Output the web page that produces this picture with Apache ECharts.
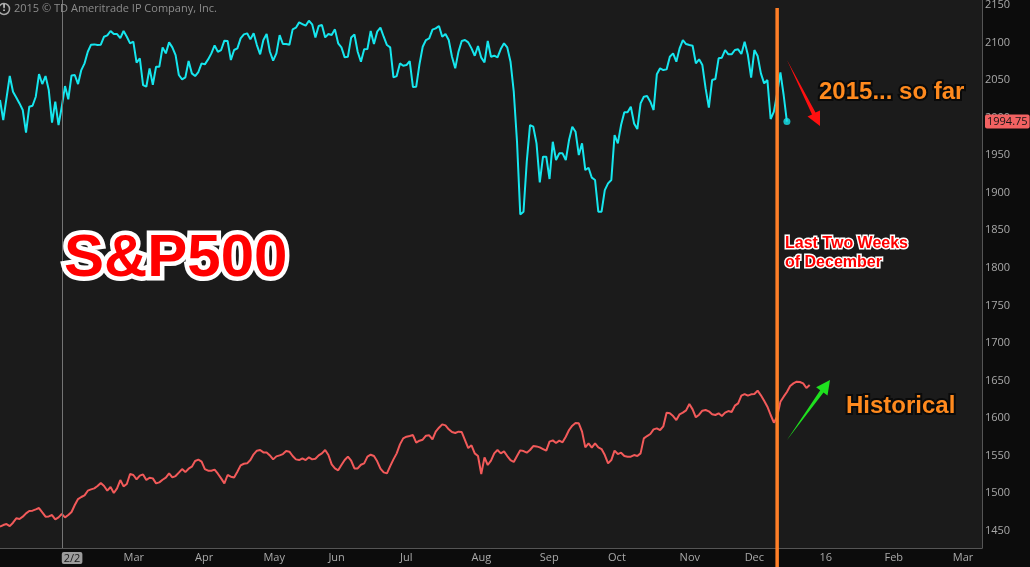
<!DOCTYPE html>
<html>
<head>
<meta charset="utf-8">
<title>S&P500 2015 vs Historical</title>
<script src="https://cdn.jsdelivr.net/npm/echarts@6/dist/echarts.min.js"></script>
<style>
  html, body { margin: 0; padding: 0; background: #0c0c0c; }
  #chart { width: 1030px; height: 567px; }
</style>
</head>
<body>
<div id="chart"></div>
<script>
// 2015 走势，每个交易日一个点（从 1 月初开始）
const sp2015 = [
  2023.5, 1996.9, 2026.1, 2055.5, 2034.6, 2027.0, 2019.0, 2010.2, 1980.0, 2014.6,
  2015.9, 2027.9, 2058.1, 2044.8, 2055.4, 2036.8, 1993.3, 2021.3, 1990.2, 2014.6,
  2042.1, 2024.4, 2056.3, 2056.8, 2044.8, 2063.4, 2072.3, 2087.8, 2097.2, 2097.6,
  2096.7, 2097.2, 2107.8, 2109.6, 2115.4, 2111.4, 2111.4, 2106.0, 2115.4, 2107.8,
  2099.0, 2101.2, 2073.2, 2079.0, 2043.5, 2041.2, 2065.7, 2043.9, 2067.9, 2067.9,
  2093.6, 2085.6, 2100.3, 2093.6, 2083.4, 2056.8, 2051.0, 2053.7, 2075.4, 2059.0,
  2055.4, 2060.8, 2072.3, 2071.0, 2077.6, 2085.6, 2096.3, 2087.8, 2090.1, 2102.5,
  2102.1, 2076.8, 2090.1, 2092.3, 2105.6, 2110.9, 2112.3, 2104.3, 2112.3, 2096.7,
  2084.3, 2103.4, 2111.4, 2087.8, 2075.9, 2085.6, 2110.0, 2098.1, 2098.1, 2097.2,
  2117.6, 2119.8, 2126.9, 2124.7, 2122.5, 2129.1, 2124.3, 2106.9, 2122.0, 2123.4,
  2106.9, 2111.4, 2110.0, 2117.6, 2099.0, 2093.6, 2080.3, 2081.2, 2106.9, 2110.9,
  2087.8, 2074.5, 2091.0, 2091.4, 2115.4, 2098.1, 2114.5, 2119.8, 2107.8, 2096.7,
  2093.6, 2053.7, 2055.4, 2072.3, 2069.2, 2070.1, 2075.4, 2040.8, 2041.3, 2071.0,
  2094.5, 2103.4, 2105.6, 2117.2, 2118.9, 2122.0, 2107.8, 2111.4, 2103.4, 2081.2,
  2065.7, 2087.9, 2102.1, 2103.4, 2100.3, 2092.3, 2082.5, 2095.4, 2079.9, 2073.7,
  2102.1, 2081.2, 2082.5, 2080.3, 2091.4, 2099.0, 2093.6, 2074.5, 2034.6, 1968.0,
  1871.2, 1874.8, 1941.4, 1990.2, 1988.0, 1965.8, 1913.9, 1948.0, 1948.0, 1918.3,
  1968.0, 1943.6, 1952.5, 1952.5, 1943.6, 1970.2, 1988.0, 1981.3, 1950.3, 1965.8,
  1930.3, 1933.4, 1920.1, 1917.0, 1874.8, 1874.8, 1903.6, 1912.5, 1917.0, 1976.9,
  1965.8, 1990.2, 2007.1, 2007.1, 2014.6, 1992.4, 1984.9, 2019.0, 2027.9, 2028.8,
  2021.3, 2010.2, 2057.7, 2065.7, 2063.4, 2064.3, 2081.2, 2085.6, 2074.5, 2092.3,
  2103.4, 2098.1, 2096.7, 2095.8, 2072.3, 2077.7, 2070.1, 2039.0, 2013.3, 2050.1,
  2051.5, 2079.0, 2079.9, 2090.1, 2084.3, 2084.3, 2090.1, 2091.0, 2084.8, 2101.2,
  2083.4, 2053.2, 2090.1, 2082.1, 2059.0, 2045.7, 2050.1, 1998.2, 2008.0, 2032.4,
  2060.3, 2030.2, 1994.75
]

// 历史季节性走势（按同一刻度画出）
const historical = [
  1455.4, 1457.6, 1458.9, 1456.2, 1460.7, 1466.5, 1465.6, 1468.7, 1473.1, 1476.2,
  1476.7, 1478.4, 1480.2, 1474.4, 1468.7, 1469.1, 1470.9, 1465.1, 1467.8, 1472.2,
  1467.8, 1470.9, 1474.9, 1484.2, 1492.2, 1494.9, 1497.1, 1503.3, 1505.1, 1506.4,
  1509.5, 1513.5, 1509.5, 1503.3, 1508.2, 1500.2, 1506.4, 1517.5, 1509.1, 1512.2,
  1525.5, 1524.2, 1518.4, 1523.3, 1525.0, 1517.5, 1520.6, 1519.7, 1513.0, 1514.4,
  1517.9, 1520.6, 1526.4, 1521.0, 1522.8, 1527.3, 1532.1, 1528.1, 1532.6, 1535.3,
  1542.8, 1544.6, 1541.9, 1532.1, 1529.9, 1529.9, 1531.3, 1525.9, 1519.7, 1513.0,
  1524.2, 1521.9, 1521.0, 1528.6, 1537.0, 1539.2, 1539.7, 1544.1, 1551.7, 1556.6,
  1557.5, 1554.3, 1554.3, 1550.3, 1545.0, 1549.0, 1550.3, 1552.1, 1556.1, 1555.2,
  1549.5, 1545.0, 1544.1, 1546.4, 1544.1, 1547.7, 1545.0, 1545.9, 1550.3, 1553.0,
  1557.5, 1550.8, 1538.4, 1533.0, 1530.4, 1537.5, 1544.1, 1548.6, 1543.2, 1533.0,
  1533.0, 1537.9, 1539.7, 1548.6, 1551.2, 1549.5, 1542.4, 1532.6, 1527.7, 1526.4,
  1536.1, 1545.0, 1553.0, 1565.0, 1573.0, 1575.2, 1576.1, 1577.4, 1567.2, 1569.9,
  1571.2, 1576.6, 1577.0, 1571.7, 1581.9, 1587.2, 1591.6, 1590.3, 1585.0, 1581.4,
  1580.1, 1581.9, 1581.4, 1570.8, 1560.1, 1563.7, 1553.0, 1549.5, 1525.5, 1547.7,
  1537.5, 1543.3, 1553.0, 1557.5, 1553.0, 1555.7, 1549.5, 1544.1, 1541.5, 1549.5,
  1557.0, 1556.1, 1553.9, 1557.5, 1562.8, 1562.3, 1561.0, 1558.8, 1556.6, 1568.6,
  1570.3, 1566.8, 1569.9, 1567.7, 1575.2, 1584.1, 1589.9, 1593.4, 1593.0, 1581.9,
  1561.0, 1566.3, 1560.6, 1566.3, 1561.0, 1558.8, 1550.8, 1539.7, 1544.1, 1556.6,
  1552.1, 1553.9, 1549.5, 1548.6, 1548.6, 1550.8, 1549.5, 1553.0, 1573.0, 1576.1,
  1578.8, 1585.0, 1586.3, 1584.1, 1589.0, 1607.2, 1606.3, 1602.7, 1597.4, 1605.0,
  1607.2, 1610.3, 1618.7, 1611.6, 1601.0, 1604.5, 1609.8, 1610.7, 1609.0, 1605.0,
  1604.1, 1606.3, 1602.7, 1607.2, 1609.4, 1608.1, 1616.5, 1619.6, 1629.8, 1632.0,
  1629.8, 1631.6, 1632.0, 1636.5, 1630.3, 1623.2, 1615.2, 1604.1, 1593.9, 1601.9,
  1621.8, 1628.5, 1634.7, 1642.7, 1646.2, 1648.5, 1648.0, 1646.2, 1640.0, 1644.0
]

// x 轴：交易日序号，刻度标签放在月初
const dayCount = 303
const tickIdx = [19, 38, 60, 81, 101, 123, 145, 166, 187, 209, 229, 252, 272, 293]
const tickText = ['2/2', 'Mar', 'Apr', 'May', 'Jun', 'Jul', 'Aug', 'Sep', 'Oct', 'Nov', 'Dec', '16', 'Feb', 'Mar']

// y 轴范围
const yMin = 1427
const yMax = 2156.7

const lastPrice = 1994.75
const markDay = 19 // 2/2 竖线
const orangeDay = 239 // 12 月最后两周起点

const days = Array.from({ length: dayCount }, (_, i) => String(i))
const lastIdx = sp2015.length - 1

const myChart = echarts.init(document.getElementById('chart'))

const options = {
  backgroundColor: '#0c0c0c',
  animation: false,
  grid: {
    left: 0,
    top: 0,
    right: 48,
    bottom: 19,
    show: true,
    backgroundColor: '#1b1b1b',
    borderWidth: 0,
    containLabel: false,
    outerBoundsMode: 'none'
  },
  xAxis: {
    type: 'category',
    data: days,
    boundaryGap: false,
    axisLine: { show: true, lineStyle: { color: '#555555', width: 1 } },
    axisTick: { show: false },
    splitLine: { show: false },
    axisLabel: {
      interval: (idx) => tickIdx.indexOf(idx) > -1,
      formatter: (val, idx) => {
        const i = tickIdx.indexOf(Number(val))
        if (i < 0) return ''
        return i === 0 ? '{box|' + tickText[i] + '}' : tickText[i]
      },
      align: 'left',
      margin: 4,
      color: '#a9a9a9',
      fontSize: 11,
      fontFamily: 'Open Sans',
      rich: {
        box: {
          backgroundColor: '#9c9c9c',
          color: '#1a1a1a',
          borderRadius: 2,
          padding: [1, 2, 0, 2],
          fontSize: 11,
          fontFamily: 'Open Sans'
        }
      }
    }
  },
  yAxis: {
    type: 'value',
    position: 'right',
    min: yMin,
    max: yMax,
    splitNumber: 14,
    scale: true,
    axisLine: { show: true, lineStyle: { color: '#555555', width: 1 } },
    axisTick: { show: false },
    splitLine: { show: false },
    axisLabel: {
      showMinLabel: false,
      showMaxLabel: false,
      margin: 3,
      color: '#a9a9a9',
      fontSize: 11,
      fontFamily: 'Open Sans',
      formatter: (v) => (v % 50 === 0 ? String(v) : '')
    }
  },
  series: [
    {
      name: 'Historical',
      type: 'line',
      data: historical,
      showSymbol: false,
      symbol: 'none',
      lineStyle: { color: '#f25a5a', width: 2 },
      z: 2,
      markLine: {
        silent: true,
        symbol: ['none', 'none'],
        label: { show: false },
        lineStyle: { color: '#747474', width: 1, type: 'solid' },
        data: [{ xAxis: markDay }]
      }
    },
    {
      name: '2015',
      type: 'line',
      data: sp2015,
      showSymbol: false,
      symbol: 'none',
      lineStyle: { color: '#16e6ee', width: 2 },
      z: 3,
      // 右侧最新价标签
      markLine: {
        silent: true,
        symbol: ['none', 'none'],
        lineStyle: { color: 'rgba(0,0,0,0)', width: 1, type: 'solid' },
        label: {
          show: true,
          position: 'end',
          distance: 3,
          formatter: String(lastPrice),
          backgroundColor: '#f26262',
          color: '#161616',
          opacity: 1,
          borderRadius: 2,
          padding: [2, 2, 1, 2],
          fontSize: 11,
          fontFamily: 'Open Sans'
        },
        data: [{ yAxis: lastPrice }]
      }
    },
    {
      name: 'last',
      type: 'scatter',
      data: [[lastIdx, sp2015[lastIdx]]],
      symbol: 'circle',
      symbolSize: 7,
      itemStyle: { color: '#16e6ee' },
      z: 4
    }
  ]
}
myChart.setOption(options)

// 注释：竖线、文字、箭头
const lineX = myChart.convertToPixel({ xAxisIndex: 0 }, orangeDay)
const boldFont = 'bold 24px "Liberation Sans", Arial, sans-serif'

myChart.setOption({
  graphic: [
    {
      type: 'line',
      z: 50,
      shape: { x1: lineX, y1: 8, x2: lineX, y2: 567 },
      style: { stroke: '#ff7f27', lineWidth: 3.5 }
    },
    {
      type: 'circle',
      z: 50,
      shape: { cx: 4, cy: 9, r: 5.5 },
      style: { fill: '#1b1b1b', stroke: '#a8a8a8', lineWidth: 1.5 }
    },
    {
      type: 'text',
      z: 51,
      style: { text: '!', x: 4, y: 9, align: 'center', verticalAlign: 'middle', fill: '#c8c8c8', font: 'bold 9px "DejaVu Sans"' }
    },
    {
      type: 'text',
      z: 50,
      style: {
        text: '2015 © TD Ameritrade IP Company, Inc.',
        x: 14,
        y: 9,
        verticalAlign: 'middle',
        fill: '#8c8c8c',
        font: '11px "Open Sans"'
      }
    },
    {
      type: 'text',
      z: 50,
      style: {
        text: 'S&P500',
        x: 64,
        y: 259,
        verticalAlign: 'middle',
        fill: '#ff0000',
        stroke: '#ffffff',
        lineWidth: 9,
        strokeFirst: true,
        lineJoin: 'round',
        shadowBlur: 6,
        shadowColor: 'rgba(0,0,0,0.7)',
        font: 'bold 60px "Liberation Sans", Arial, sans-serif'
      }
    },
    {
      type: 'text',
      z: 50,
      style: {
        text: 'Last Two Weeks\nof December',
        x: 785,
        y: 234,
        lineHeight: 19,
        fill: '#ff0000',
        stroke: '#ffffff',
        lineWidth: 3,
        strokeFirst: true,
        lineJoin: 'round',
        font: 'bold 16px "Liberation Sans", Arial, sans-serif'
      }
    },
    {
      type: 'text',
      z: 50,
      style: {
        text: '2015... so far',
        x: 819,
        y: 92,
        verticalAlign: 'middle',
        fill: '#ff8a1e',
        stroke: '#0a0a0a',
        lineWidth: 4,
        strokeFirst: true,
        lineJoin: 'round',
        shadowBlur: 4,
        shadowColor: 'rgba(0,0,0,0.8)',
        font: boldFont
      }
    },
    {
      type: 'text',
      z: 50,
      style: {
        text: 'Historical',
        x: 846,
        y: 406,
        verticalAlign: 'middle',
        fill: '#ff8a1e',
        stroke: '#0a0a0a',
        lineWidth: 4,
        strokeFirst: true,
        lineJoin: 'round',
        shadowBlur: 4,
        shadowColor: 'rgba(0,0,0,0.8)',
        font: boldFont
      }
    },
    // 红色向下箭头
    {
      type: 'polygon',
      z: 50,
      shape: { points: [[787, 60], [812, 114.4], [807.5, 116.6], [820, 126], [820, 110.4], [815.5, 112.6]] },
      style: { fill: '#ff1010' }
    },
    // 绿色向上箭头
    {
      type: 'polygon',
      z: 50,
      shape: { points: [[787, 440], [823.5, 392.6], [827.5, 395.5], [830, 380], [816.1, 387.3], [820.2, 390.2]] },
      style: { fill: '#1fe01f' }
    }
  ]
})
</script>
</body>
</html>
